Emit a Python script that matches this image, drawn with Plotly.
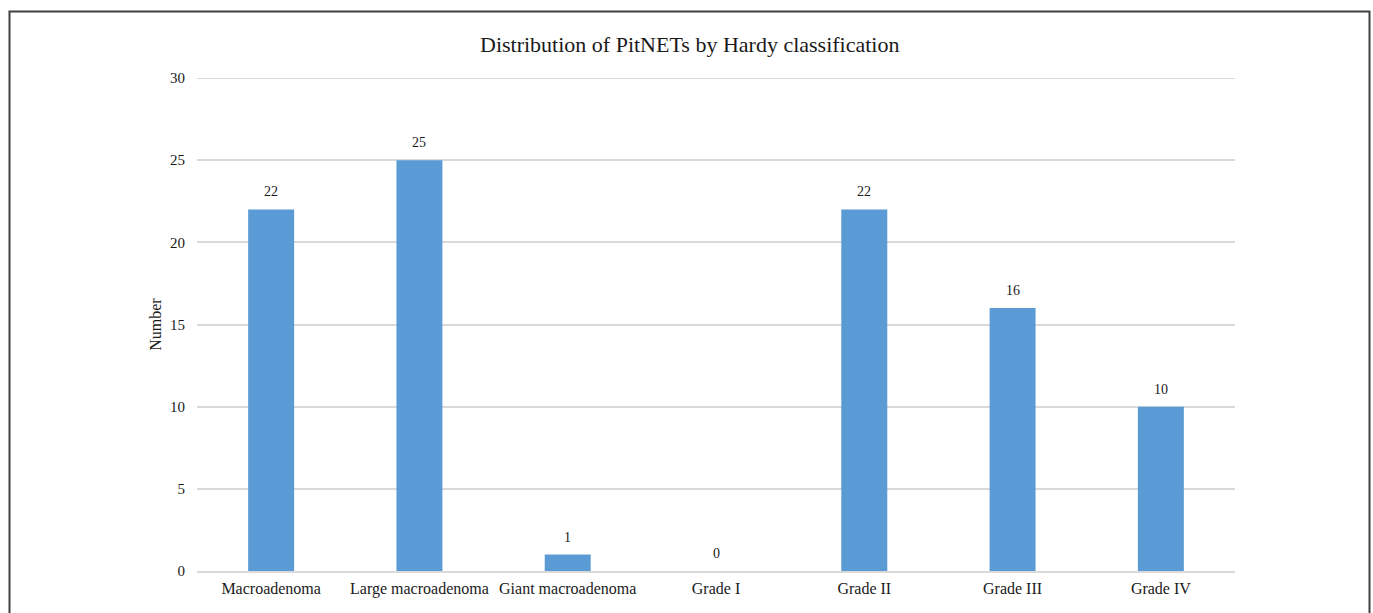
import plotly.graph_objects as go

categories = ["Macroadenoma", "Large macroadenoma", "Giant macroadenoma",
              "Grade I", "Grade II", "Grade III", "Grade IV"]
counts = [22, 25, 1, 0, 22, 16, 10]
y_ticks = [0, 5, 10, 15, 20, 25, 30]

W, H = 1373, 613
L, R, T, B = 197, 138, 78, 42
plot_w = W - L - R
plot_h = H - T - B

FONT = "Liberation Serif, Times New Roman, serif"
TEXT = "#1a1a1a"
BAR = "#5B9BD5"
GRID = "#D9D9D9"

fig = go.Figure()
fig.add_trace(go.Bar(
    x=categories, y=counts,
    marker=dict(color=BAR, line=dict(width=0)),
    hoverinfo="x+y",
))

# value labels above each bar
for c, v in zip(categories, counts):
    fig.add_annotation(
        x=c, y=v, text=str(v), showarrow=False,
        yanchor="bottom", yshift=8,
        font=dict(family=FONT, size=14, color=TEXT),
    )

# gridline at the top of the value range (plotly skips the edge one)
fig.add_shape(
    type="line", xref="paper", yref="y", x0=0, x1=1,
    y0=y_ticks[-1], y1=y_ticks[-1],
    line=dict(color=GRID, width=2), layer="below",
)

# outer frame around the whole chart
def px_x(p):
    return (p - L) / plot_w

def px_y(p):
    return (H - B - p) / plot_h

fig.add_shape(
    type="rect", xref="paper", yref="paper",
    x0=px_x(9.5), x1=px_x(1369.5), y0=px_y(640), y1=px_y(11.5),
    line=dict(color="#404040", width=2), fillcolor="rgba(0,0,0,0)",
    layer="above",
)

fig.add_annotation(
    xref="paper", yref="paper", x=px_x(689.5), y=px_y(44),
    text="Distribution of PitNETs by Hardy classification",
    showarrow=False, xanchor="center", yanchor="middle",
    font=dict(family=FONT, size=22, color=TEXT),
)

fig.update_layout(
    width=W, height=H,
    margin=dict(l=L, r=R, t=T, b=B, pad=0),
    paper_bgcolor="white", plot_bgcolor="white",
    bargap=0.69,
    showlegend=False,
    font=dict(family=FONT, size=15, color=TEXT),
    xaxis=dict(
        showgrid=False, showline=True, linecolor=GRID, linewidth=2,
        ticks="", ticklabelstandoff=2,
        tickfont=dict(family=FONT, size=16, color=TEXT),
        fixedrange=True,
    ),
    yaxis=dict(
        range=[0, 30], tickvals=y_ticks, showgrid=True, gridcolor=GRID,
        gridwidth=2, zeroline=False, showline=False, ticks="",
        ticklabelstandoff=11,
        tickfont=dict(family=FONT, size=15, color=TEXT),
        title=dict(text="Number", standoff=4,
                   font=dict(family=FONT, size=16, color=TEXT)),
        fixedrange=True,
    ),
)

fig.write_html("out.html")
